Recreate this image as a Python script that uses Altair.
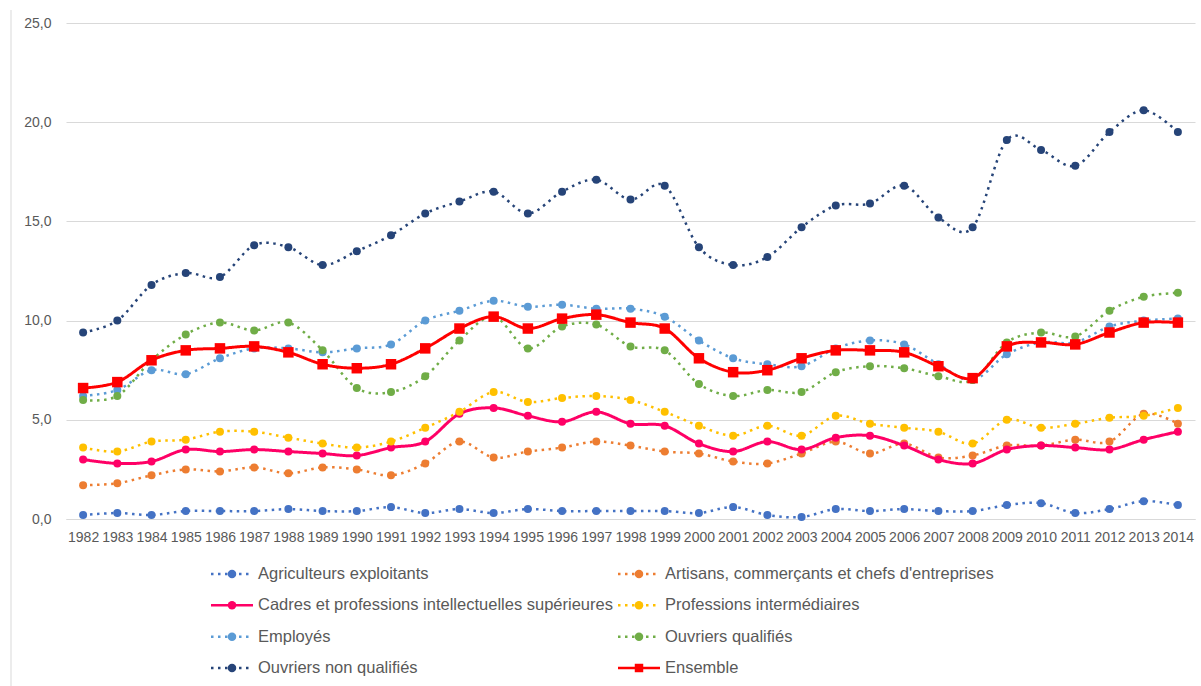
import altair as alt
import pandas as pd

years = list(range(1982, 2015))

series_names = [
    "Agriculteurs exploitants",
    "Artisans, commerçants et chefs d'entreprises",
    "Cadres et professions intellectuelles supérieures",
    "Professions intermédiaires",
    "Employés",
    "Ouvriers qualifiés",
    "Ouvriers non qualifiés",
    "Ensemble",
]

agriculteurs = [0.2, 0.3, 0.2, 0.4, 0.4, 0.4, 0.5, 0.4, 0.4, 0.6,
                0.3, 0.5, 0.3, 0.5, 0.4, 0.4, 0.4, 0.4, 0.3, 0.6, 0.2, 0.1,
                0.5, 0.4, 0.5, 0.4, 0.4, 0.7, 0.8, 0.3, 0.5, 0.9, 0.7]
artisans = [1.7, 1.8, 2.2, 2.5, 2.4, 2.6, 2.3, 2.6, 2.5, 2.2,
            2.8, 3.9, 3.1, 3.4, 3.6, 3.9, 3.7, 3.4, 3.3, 2.9, 2.8, 3.3,
            3.9, 3.3, 3.8, 3.1, 3.2, 3.7, 3.7, 4.0, 3.9, 5.3, 4.8]
cadres = [3.0, 2.8, 2.9, 3.5, 3.4, 3.5, 3.4, 3.3, 3.2, 3.6,
          3.9, 5.3, 5.6, 5.2, 4.9, 5.4, 4.8, 4.7, 3.8, 3.4, 3.9, 3.5,
          4.1, 4.2, 3.7, 3.0, 2.8, 3.5, 3.7, 3.6, 3.5, 4.0, 4.4]
prof_inter = [3.6, 3.4, 3.9, 4.0, 4.4, 4.4, 4.1, 3.8, 3.6, 3.9,
              4.6, 5.4, 6.4, 5.9, 6.1, 6.2, 6.0, 5.4, 4.7, 4.2, 4.7, 4.2,
              5.2, 4.8, 4.6, 4.4, 3.8, 5.0, 4.6, 4.8, 5.1, 5.2, 5.6]
employes = [6.2, 6.5, 7.5, 7.3, 8.1, 8.6, 8.6, 8.4, 8.6, 8.8,
            10.0, 10.5, 11.0, 10.7, 10.8, 10.6, 10.6, 10.2, 9.0, 8.1, 7.8, 7.7,
            8.6, 9.0, 8.8, 7.8, 7.0, 8.3, 8.9, 8.9, 9.7, 10.0, 10.1]
ouvriers_q = [6.0, 6.2, 8.0, 9.3, 9.9, 9.5, 9.9, 8.5, 6.6, 6.4,
              7.2, 9.0, 10.2, 8.6, 9.7, 9.8, 8.7, 8.5, 6.8, 6.2, 6.5, 6.4,
              7.4, 7.7, 7.6, 7.2, 7.0, 8.9, 9.4, 9.2, 10.5, 11.2, 11.4]
ouvriers_nq = [9.4, 10.0, 11.8, 12.4, 12.2, 13.8, 13.7, 12.8, 13.5, 14.3,
               15.4, 16.0, 16.5, 15.4, 16.5, 17.1, 16.1, 16.8, 13.7, 12.8, 13.2, 14.7,
               15.8, 15.9, 16.8, 15.2, 14.7, 19.1, 18.6, 17.8, 19.5, 20.6, 19.5]
ensemble = [6.6, 6.9, 8.0, 8.5, 8.6, 8.7, 8.4, 7.8, 7.6, 7.8,
            8.6, 9.6, 10.2, 9.6, 10.1, 10.3, 9.9, 9.6, 8.1, 7.4, 7.5, 8.1,
            8.5, 8.5, 8.4, 7.7, 7.1, 8.7, 8.9, 8.8, 9.4, 9.9, 9.9]

all_values = [agriculteurs, artisans, cadres, prof_inter, employes,
              ouvriers_q, ouvriers_nq, ensemble]

# styles
colors = ["#4472C4", "#ED7D31", "#FF0066", "#FFC000", "#5B9BD5",
          "#70AD47", "#264478", "#FF0000"]
DOT = [2.5, 4.5]
SOLID = [1, 0]
dashes = [DOT, DOT, SOLID, DOT, DOT, DOT, DOT, SOLID]
widths = [2.5, 2.5, 3, 2.5, 2.5, 2.5, 2.5, 3]
shapes = ["circle"] * 7 + ["square"]
sizes = [64] * 7 + [110]
leg_sizes = [72] * 7 + [80]

rows = []
for name, vals in zip(series_names, all_values):
    for yr, v in zip(years, vals):
        rows.append({"annee": yr, "serie": name, "valeur": v})
df = pd.DataFrame(rows)

FONT = "Liberation Sans"
GRID = "#D9D9D9"
TXT = "#595959"

color_scale = alt.Scale(domain=series_names, range=colors)
dash_scale = alt.Scale(domain=series_names, range=dashes)

x_enc = alt.X(
    "annee:O",
    scale=alt.Scale(type="point", padding=0.5),
    axis=alt.Axis(title=None, labelAngle=0, ticks=False, grid=False,
                  domainColor=GRID, labelFont=FONT, labelFontSize=14,
                  labelColor=TXT, labelPadding=11),
)
y_enc = alt.Y(
    "valeur:Q",
    scale=alt.Scale(domain=[0, 25], nice=False),
    axis=alt.Axis(title=None, values=[0, 5, 10, 15, 20, 25],
                  labelExpr="replace(format(datum.value, '.1f'), '.', ',')",
                  domain=False, ticks=False, gridColor=GRID,
                  labelFont=FONT, labelFontSize=14, labelColor=TXT,
                  labelPadding=15),
)

layers = []
for i, name in enumerate(series_names):
    base = alt.Chart(df).transform_filter(alt.datum.serie == name)
    line = base.mark_line(interpolate="cardinal", strokeWidth=widths[i]).encode(
        x=x_enc, y=y_enc,
        color=alt.Color("serie:N", scale=color_scale, legend=None),
        strokeDash=alt.StrokeDash("serie:N", scale=dash_scale, legend=None),
    )
    pts = base.mark_point(filled=True, opacity=1, shape=shapes[i], size=sizes[i]).encode(
        x=x_enc, y=y_enc,
        color=alt.Color("serie:N", scale=color_scale, legend=None),
    )
    layers += [line, pts]

main = alt.layer(*layers)

# manual legend (2 columns)
leg_df = pd.DataFrame({
    "serie": series_names,
    "col": [i % 2 for i in range(len(series_names))],
    "row": [i // 2 for i in range(len(series_names))],
})
lx = alt.X("col:Q", scale=alt.Scale(domain=[0, 1], range=[166, 573]), axis=None)
ly = alt.Y("row:Q", scale=alt.Scale(domain=[0, 3], range=[551, 645]), axis=None)
leg_base = alt.Chart(leg_df)
leg_rule = leg_base.mark_rule(xOffset=-21, x2Offset=21).encode(
    x=lx, x2="col:Q", y=ly,
    color=alt.Color("serie:N", scale=color_scale, legend=None),
    strokeDash=alt.StrokeDash("serie:N", scale=dash_scale, legend=None),
    strokeWidth=alt.StrokeWidth("serie:N", scale=alt.Scale(domain=series_names, range=widths), legend=None),
)
leg_pt = leg_base.mark_point(filled=True, opacity=1).encode(
    x=lx, y=ly,
    color=alt.Color("serie:N", scale=color_scale, legend=None),
    shape=alt.Shape("serie:N", scale=alt.Scale(domain=series_names, range=shapes), legend=None),
    size=alt.Size("serie:N", scale=alt.Scale(domain=series_names, range=leg_sizes), legend=None),
)
leg_txt = leg_base.mark_text(align="left", baseline="middle", dx=26, font=FONT,
                             fontSize=16.5, color=TXT).encode(
    x=lx, y=ly, text="serie:N",
)
border = alt.Chart(pd.DataFrame({"k": [0]})).mark_rule(color=GRID, strokeWidth=1).encode(
    x=alt.value(-55), y=alt.value(-13), y2=alt.value(663)
)
legend = alt.layer(leg_rule, leg_pt, leg_txt, border)

chart = (
    alt.layer(main, legend)
    .resolve_scale(x="independent", y="independent")
    .properties(
        width=1129, height=496,
        padding={"left": 66, "top": 23, "right": 6, "bottom": 167},
        autosize=alt.AutoSizeParams(type="none"),
        background="white",
    )
    .configure_view(stroke=None)
)

chart.save("out.html", embed_options={"renderer": "svg", "actions": False})
